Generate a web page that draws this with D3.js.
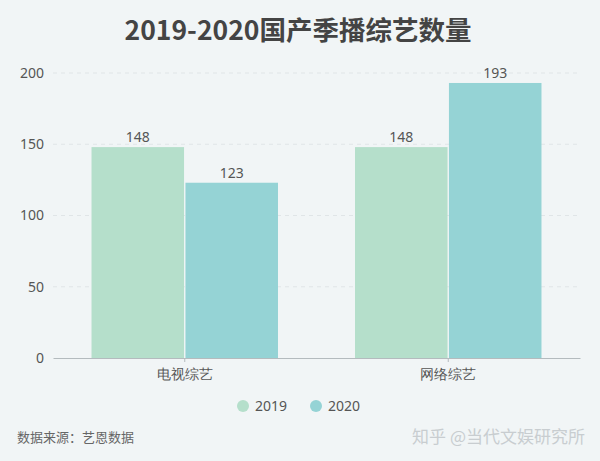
<!DOCTYPE html>
<html><head><meta charset="utf-8">
<script src="https://cdn.jsdelivr.net/npm/d3@7"></script>
<style>body{margin:0;background:#f1f5f6;}svg{display:block;font-family:"Noto Sans CJK SC","Noto Sans",sans-serif;}</style>
</head><body><svg id="c" width="600" height="461"></svg>
<script>
const categories = ["电视综艺", "网络综艺"];
const seriesNames = ["2019", "2020"];
const values2019 = [148, 148];
const values2020 = [123, 193];
const yTicks = [0, 50, 100, 150, 200];
const colors = ["#b5dfcb", "#95d3d5"];
const seriesValues = [values2019, values2020];

const svg = d3.select("#c");
svg.append("rect").attr("width",600).attr("height",461).attr("fill","#f1f5f6");
const m = {l:53, r:20, t:73, b:103};
const W = 600, H = 461;
const x = d3.scaleBand().domain(categories).range([m.l, W - m.r]).paddingInner(0).paddingOuter(0);
const xs = d3.scaleBand().domain(seriesNames).range([0, x.bandwidth()]).paddingInner(0.015).paddingOuter(0.41);
const y = d3.scaleLinear().domain([0, 200]).range([H - m.b, m.t]);

svg.append("text").attr("x",298).attr("y",40).attr("text-anchor","middle")
  .attr("font-size",26.5).attr("font-weight","bold").attr("fill","#444").text("2019-2020国产季播综艺数量");

// grid
svg.append("g").selectAll("line").data(yTicks.filter(d=>d>0)).join("line")
  .attr("x1",m.l).attr("x2",W-m.r).attr("y1",d=>y(d)).attr("y2",d=>y(d))
  .attr("stroke","#e0e5e7").attr("stroke-dasharray","4,4");

const yAxis = svg.append("g").attr("transform",`translate(${m.l},0)`)
  .call(d3.axisLeft(y).tickValues(yTicks).tickSize(0).tickPadding(9));
yAxis.select(".domain").remove();
yAxis.selectAll("text").attr("font-size",14).attr("fill","#555").attr("font-family","'Noto Sans',sans-serif");

const groups = svg.append("g").selectAll("g").data(categories).join("g")
  .attr("transform",d=>`translate(${x(d)},0)`);
groups.selectAll("rect").data((c,i)=>seriesNames.map((s,j)=>({s, v: seriesValues[j][i], j}))).join("rect")
  .attr("x",d=>xs(d.s)).attr("width",xs.bandwidth())
  .attr("y",d=>y(d.v)).attr("height",d=>y(0)-y(d.v)).attr("fill",d=>colors[d.j]);
groups.selectAll("text").data((c,i)=>seriesNames.map((s,j)=>({s, v: seriesValues[j][i], j}))).join("text")
  .attr("x",d=>xs(d.s)+xs.bandwidth()/2).attr("y",d=>y(d.v)-5).attr("text-anchor","middle")
  .attr("font-size",14).attr("fill","#555").attr("font-family","'Noto Sans',sans-serif").text(d=>d.v);

const xAxis = svg.append("g").attr("transform",`translate(0,${y(0)})`)
  .call(d3.axisBottom(x).tickSize(4).tickPadding(7).tickSizeOuter(0));
xAxis.select(".domain").attr("stroke","#b4bbbe");
xAxis.selectAll("line").attr("stroke","#b4bbbe");
xAxis.selectAll("text").attr("font-size",14).attr("fill","#555");

// legend
const leg = svg.append("g");
const lx = [243, 316];
seriesNames.forEach((s,i)=>{
  leg.append("circle").attr("cx",lx[i]).attr("cy",406).attr("r",6).attr("fill",colors[i]);
  leg.append("text").attr("x",lx[i]+12).attr("y",411).attr("font-size",14).attr("fill","#555")
    .attr("font-family","'Noto Sans',sans-serif").text(s);
});

svg.append("text").attr("x",17).attr("y",442).attr("font-size",13).attr("fill","#666").text("数据来源：艺恩数据");
svg.append("text").attr("x",585).attr("y",443).attr("text-anchor","end").attr("font-size",17).attr("fill","#c8cdd0").text("知乎 @当代文娱研究所");
</script></body></html>
